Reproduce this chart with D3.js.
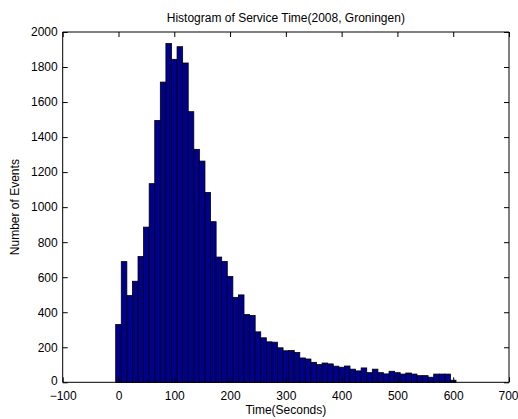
<!DOCTYPE html>
<html>
<head>
<meta charset="utf-8">
<script src="https://cdn.jsdelivr.net/npm/d3@7"></script>
<style>
  html, body { margin: 0; padding: 0; background: #fff; }
  svg { display: block; }
  text { font-family: "Liberation Sans", Arial, sans-serif; fill: #000; }
</style>
</head>
<body>
<svg id="chart" width="518" height="419"></svg>
<script>
// Bin centres (seconds)
const binCenters = [0,10,20,30,40,50,60,70,80,90,100,110,120,130,140,150,160,170,180,190,
  200,210,220,230,240,250,260,270,280,290,300,310,320,330,340,350,360,370,380,390,
  400,410,420,430,440,450,460,470,480,490,500,510,520,530,540,550,560,570,580,590,600];
// Counts per bin
const counts = [330,689,495,577,718,886,1134,1495,1714,1934,1844,1916,1823,1545,1330,1263,1084,917,715,690,
  604,485,499,387,381,288,254,231,229,197,180,181,170,139,133,114,101,110,105,92,
  86,93,75,65,82,55,75,55,48,63,55,47,53,47,38,38,29,47,47,47,12];
const binWidth = 10;
const xTicks = [-100,0,100,200,300,400,500,600,700];
const yTicks = [0,200,400,600,800,1000,1200,1400,1600,1800,2000];
const title = "Histogram of Service Time(2008, Groningen)";
const xLabel = "Time(Seconds)";
const yLabel = "Number of Events";

const svg = d3.select("#chart");
const L = 62.7, R = 509, T = 32, B = 382.3;
const x = d3.scaleLinear().domain([-100, 700]).range([L, R]);
const y = d3.scaleLinear().domain([0, 2000]).range([B, T]);

const data = binCenters.map((c, i) => ({c, v: counts[i]}));

svg.append("g").selectAll("rect").data(data).join("rect")
  .attr("x", d => x(d.c - binWidth/2))
  .attr("width", d => x(d.c + binWidth/2) - x(d.c - binWidth/2))
  .attr("y", d => y(d.v))
  .attr("height", d => y(0) - y(d.v))
  .attr("fill", "#00008f")
  .attr("stroke", "#000")
  .attr("stroke-width", 0.8);

const tickLen = 5;
const xb = svg.append("g").attr("transform", `translate(0,${B})`)
  .call(d3.axisBottom(x).tickValues(xTicks).tickSize(-tickLen).tickPadding(9).tickFormat(d3.format("d")));
const xt = svg.append("g").attr("transform", `translate(0,${T})`)
  .call(d3.axisTop(x).tickValues(xTicks).tickSize(-tickLen).tickFormat(""));
const yl = svg.append("g").attr("transform", `translate(${L},0)`)
  .call(d3.axisLeft(y).tickValues(yTicks).tickSize(-tickLen).tickPadding(5).tickFormat(d3.format("d")));
const yr = svg.append("g").attr("transform", `translate(${R},0)`)
  .call(d3.axisRight(y).tickValues(yTicks).tickSize(-tickLen).tickFormat(""));

[xb, xt, yl, yr].forEach(g => {
  g.selectAll(".domain").attr("stroke", "#000").attr("stroke-width", 1);
  g.selectAll(".tick line").attr("stroke", "#000").attr("stroke-width", 1);
  g.selectAll("text").attr("font-size", 12).attr("fill", "#000")
    .style("font-family", "'Liberation Sans', Arial, sans-serif");
});
xb.selectAll(".tick text").filter(d => d === 700).attr("dx", -1);
yl.selectAll(".tick text").filter(d => d === 0).attr("dy", "0.22em");
[xb, xt].forEach(g => g.select(".domain").attr("d", `M${L},0H${R}`));
[yl, yr].forEach(g => g.select(".domain").attr("d", `M0,${T}V${B}`));

svg.append("text").attr("x", (L + R) / 2).attr("y", 22)
  .attr("text-anchor", "middle").attr("font-size", 12).text(title);
svg.append("text").attr("x", (L + R) / 2).attr("y", 414)
  .attr("text-anchor", "middle").attr("font-size", 12).text(xLabel);
svg.append("text").attr("transform", `translate(19,${(T + B) / 2}) rotate(-90)`)
  .attr("text-anchor", "middle").attr("font-size", 12).text(yLabel);
</script>
</body>
</html>
